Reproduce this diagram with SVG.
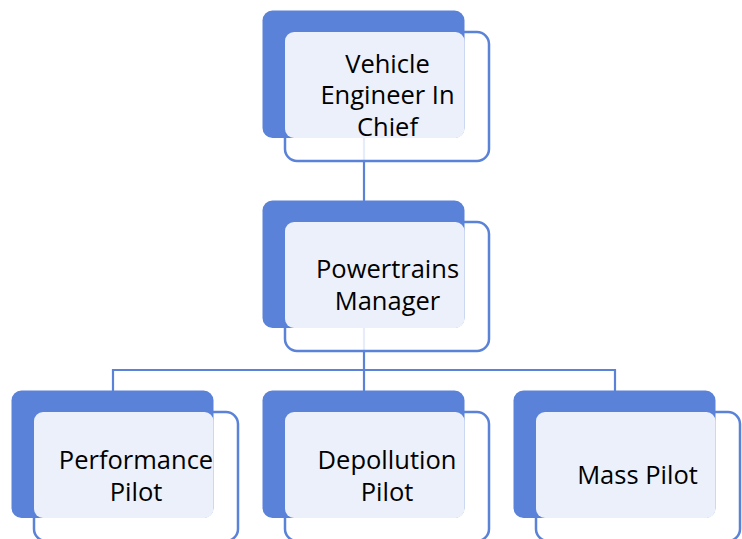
<svg xmlns="http://www.w3.org/2000/svg" width="742" height="539" viewBox="0 0 742 539">
  <style>
    .frame { fill: #ffffff; fill-opacity: 0.85; stroke: #5A82D8; stroke-width: 2.5; }
    .back { fill: #5A82D8; }
    .face { fill: #ECF0FA; }
    .label { font-family: "Open Sans", "Liberation Sans", sans-serif; font-size: 25.5px; fill: #000000; text-anchor: middle; }
    .link { fill: none; stroke: #5A82D8; stroke-width: 2.2; }
  </style>
  <defs>
    <!-- one card: outlined frame, solid back panel, pale face where they overlap -->
    <g id="card">
      <rect class="frame" x="22.5" y="21.5" width="204" height="129" rx="12"/>
      <rect class="back" x="0" y="0" width="202" height="127.5" rx="10"/>
      <rect class="face" x="22.5" y="21.5" width="179.5" height="106" rx="9"/>
    </g>
  </defs>

  <rect width="742" height="539" fill="#ffffff"/>

  <g id="connectors">
    <path class="link" d="M364 138V201 M364 328V391 M113 391V370H615V391"/>
  </g>

  <g id="vehicle-engineer">
    <use href="#card" x="262.5" y="10.5"/>
    <text class="label" x="387.5" y="72.7">Vehicle</text>
    <text class="label" x="387.5" y="104.3">Engineer In</text>
    <text class="label" x="387.5" y="136">Chief</text>
  </g>

  <g id="powertrains-manager">
    <use href="#card" x="262.5" y="200.5"/>
    <text class="label" x="387.5" y="278.3">Powertrains</text>
    <text class="label" x="387.5" y="310">Manager</text>
  </g>

  <g id="performance-pilot">
    <use href="#card" x="11.5" y="390.5"/>
    <text class="label" x="136" y="469">Performance</text>
    <text class="label" x="136" y="500.5">Pilot</text>
  </g>

  <g id="depollution-pilot">
    <use href="#card" x="262.5" y="390.5"/>
    <text class="label" x="387" y="469.3">Depollution</text>
    <text class="label" x="387" y="500.7">Pilot</text>
  </g>

  <g id="mass-pilot">
    <use href="#card" x="513.5" y="390.5"/>
    <text class="label" x="637.5" y="484.3">Mass Pilot</text>
  </g>
</svg>
